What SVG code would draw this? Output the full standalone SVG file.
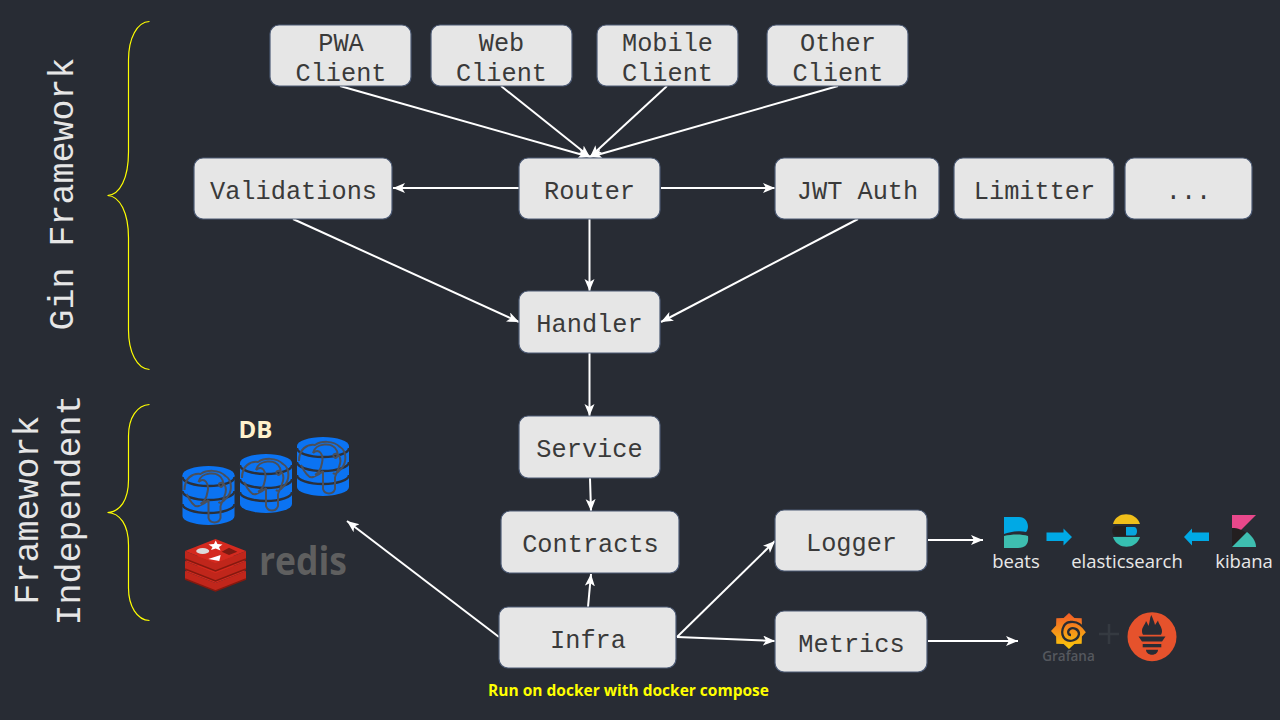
<svg xmlns="http://www.w3.org/2000/svg" width="1280" height="720" viewBox="0 0 1280 720">
<style>
.box{fill:#e6e6e6;stroke:#4d5b75;stroke-width:1.2}
.t{font-family:"Liberation Mono",monospace;font-size:25.3px;fill:#3a3a3a;text-anchor:middle}
.side{font-family:"Liberation Mono",monospace;font-size:35px;fill:#e6e6e6;text-anchor:middle}
.c{fill:none;stroke:#fff;stroke-width:2;marker-end:url(#a)}
.brace{fill:none;stroke:#ffff00;stroke-width:1.2}
.logo{font-family:"Open Sans","Noto Sans",sans-serif;fill:#e8e8e8;text-anchor:middle}
.band{fill:none;stroke:#2b303a;stroke-width:2.4}
.ele{fill:none;stroke:#4a4f5a;stroke-width:2}
.lb{fill:#c0261b}
.lg{fill:none;stroke:#85190f;stroke-width:1.6}
.lf{fill:#d42a1f}
.dk{fill:#282c34}
</style>
<defs>
<marker id="a" markerUnits="userSpaceOnUse" markerWidth="14" markerHeight="12" refX="12" refY="5" orient="auto"><path d="M0 0L12 5L0 10L3 5Z" fill="#fff"/></marker>
<linearGradient id="g" x1="0" y1="0" x2="0" y2="1"><stop offset="0" stop-color="#f05a28"/><stop offset="1" stop-color="#fbca0a"/></linearGradient>
<g id="cyl">
<ellipse cx="26" cy="9" rx="26" ry="9" fill="#0b73f2"/>
<path d="M0 9V50A26 9 0 0 0 52 50V9Z" fill="#0b73f2"/>
<path class="band" d="M0 11A26 9 0 0 0 52 11M0 25A26 9 0 0 0 52 25M0 38A26 9 0 0 0 52 38"/>
<path class="ele" d="M2 24C2 12 10 7 18 8C24 4 36 3 43 10C50 14 50 26 44 32C40 36 38 38 36 36M4 28C8 36 12 42 16 40C22 38 24 36 26 34M16 16C22 10 27 18 25 26C24 32 22 36 18 38M26 34V52C28 58 36 58 38 52V40M36 18C40 14 46 20 42 30L38 40M16 16C18 6 36 4 40 14C42 20 38 24 36 18"/>
</g>
<g id="lay">
<path class="lb" d="M185 0L215.500 12L246 0V8L215.500 20L185 8Z"/>
<path class="lf" d="M185 0L215.500 -12L246 0L215.500 12Z"/>
<path class="lg" d="M185 8L215.500 20L246 8"/>
</g>
</defs>
<rect width="1280" height="720" fill="#282c34"/>

<g id="connectors">
<path class="c" d="M340 86L590 157"/>
<path class="c" d="M501 86L590 157"/>
<path class="c" d="M667 86L590 157"/>
<path class="c" d="M838 86L590 157"/>
<path class="c" d="M519 188H393"/>
<path class="c" d="M661 188H775"/>
<path class="c" d="M589.500 219V291"/>
<path class="c" d="M293 219L519 322"/>
<path class="c" d="M858 219L661 322"/>
<path class="c" d="M589.500 353V416"/>
<path class="c" d="M590 478L591 511"/>
<path class="c" d="M588 607L591 574"/>
<path class="c" d="M499 637L347 521"/>
<path class="c" d="M677 637L775 541"/>
<path class="c" d="M677 637L775 641"/>
<path class="c" d="M928 540H983"/>
<path class="c" d="M928 641H1018"/>
</g>

<g id="pwa"><rect class="box" x="270" y="25" width="141" height="61" rx="9"/><text class="t" x="341" y="51">PWA</text><text class="t" x="341" y="81">Client</text></g>
<g id="web"><rect class="box" x="431" y="25" width="141" height="61" rx="9"/><text class="t" x="501.500" y="51">Web</text><text class="t" x="501.500" y="81">Client</text></g>
<g id="mobile"><rect class="box" x="597" y="25" width="141" height="61" rx="9"/><text class="t" x="667.500" y="51">Mobile</text><text class="t" x="667.500" y="81">Client</text></g>
<g id="other"><rect class="box" x="767" y="25" width="141" height="61" rx="9"/><text class="t" x="838" y="51">Other</text><text class="t" x="838" y="81">Client</text></g>
<g id="validations"><rect class="box" x="194" y="158" width="198" height="61" rx="9"/><text class="t" x="293.500" y="199">Validations</text></g>
<g id="router"><rect class="box" x="519" y="158" width="141" height="61" rx="9"/><text class="t" x="589.500" y="199">Router</text></g>
<g id="jwt"><rect class="box" x="775" y="158" width="164" height="61" rx="9"/><text class="t" x="857.500" y="199">JWT Auth</text></g>
<g id="limitter"><rect class="box" x="954" y="158" width="160" height="61" rx="9"/><text class="t" x="1034.500" y="199">Limitter</text></g>
<g id="more"><rect class="box" x="1125" y="158" width="127" height="61" rx="9"/><text class="t" x="1188.500" y="199">...</text></g>
<g id="handler"><rect class="box" x="519" y="291" width="141" height="62" rx="9"/><text class="t" x="589.500" y="332">Handler</text></g>
<g id="service"><rect class="box" x="519" y="416" width="141" height="62" rx="9"/><text class="t" x="589.500" y="457">Service</text></g>
<g id="contracts"><rect class="box" x="501" y="511" width="178" height="62" rx="9"/><text class="t" x="590.500" y="552">Contracts</text></g>
<g id="infra"><rect class="box" x="499" y="607" width="177" height="61" rx="9"/><text class="t" x="588" y="648">Infra</text></g>
<g id="logger"><rect class="box" x="775" y="510" width="152" height="61" rx="9"/><text class="t" x="851.500" y="551">Logger</text></g>
<g id="metrics"><rect class="box" x="775" y="611" width="152" height="61" rx="9"/><text class="t" x="851.500" y="652">Metrics</text></g>

<g id="gin-label">
<path class="brace" d="M149.500 21.500C137 22 128.500 38 128.500 60V152C128.500 178 120 195 107.500 195.500C120 196 128.500 213 128.500 238V330C128.500 352 137 369 149.500 369.500"/>
<text class="side" transform="translate(73 194) rotate(-90)">Gin Framework</text>
</g>
<g id="independent-label">
<path class="brace" d="M149.500 404.500C137 405 128.500 418 128.500 436V480C128.500 500 120 512 107.500 512.500C120 513 128.500 525 128.500 545V588C128.500 606 137 620 149.500 620.500"/>
<text class="side" transform="translate(38 510) rotate(-90)">Framework</text>
<text class="side" transform="translate(79.500 510) rotate(-90)">Independent</text>
</g>

<g id="db">
<text x="255.500" y="438" font-family="'Open Sans','Noto Sans',sans-serif" font-weight="700" font-size="24" fill="#fff2cc" text-anchor="middle">DB</text>
<use href="#cyl" x="182.500" y="466"/>
<use href="#cyl" x="240" y="454"/>
<use href="#cyl" x="297" y="437"/>
</g>
<g id="redis">
<use href="#lay" y="571"/>
<use href="#lay" y="561"/>
<use href="#lay" y="551"/>
<path d="M215.700 540.500L217.500 544L222.500 544.500L219 547L220.500 550.500L215.700 548.500L211 550L212.500 547L208.500 544.500L214 544Z" fill="#fff"/>
<ellipse cx="202.700" cy="551" rx="6.500" ry="3" fill="#dcdcdc"/>
<path d="M208.300 559L220.700 555L219.300 561Z" fill="#fff"/>
<path d="M221.700 551.700L229 547.700L237.300 551.700L229 555Z" fill="#7a1a12"/>
<text x="303" y="575" font-family="'Open Sans','Noto Sans',sans-serif" font-weight="700" font-size="40" fill="#5f5f5f" text-anchor="middle" textLength="88" lengthAdjust="spacingAndGlyphs">redis</text>
</g>

<g id="elk">
<path d="M1004 517H1019C1028 517 1030 528 1026 532C1020 530 1010 532 1004 534Z" fill="#00a9e5"/>
<path d="M1004 536C1012 534 1022 534 1028 536C1029 543 1026 548 1018 548H1004Z" fill="#3ebeb0"/>
<text class="logo" x="1016" y="568" font-size="18.500">beats</text>
<path d="M1046.500 532.500H1063.500V528.500L1072 537L1063.500 545.500V541H1046.500Z" fill="#00a9e5"/>
<path d="M1113 524C1116 511 1136 511 1140 524Z" fill="#f0bf1a"/>
<path d="M1116 526H1127V536H1116C1111 536 1111 526 1116 526Z" fill="#231f20"/>
<path d="M1126 527H1134C1138 527 1138 535.500 1134 535.500H1126Z" fill="#07a5de"/>
<path d="M1113 537H1140C1136 550 1117 550 1113 537Z" fill="#36bfb1"/>
<text class="logo" x="1127" y="568" font-size="18.500">elasticsearch</text>
<path d="M1209 532.500H1192V528.500L1184 537L1192 545.500V541H1209Z" fill="#00a9e5"/>
<path d="M1232 515H1256L1232 539Z" fill="#e8488b"/>
<path d="M1232 528C1238 528 1243 530 1246 533L1232 547Z" fill="#231f20"/>
<path d="M1232 547L1247 532C1252 536 1256 541 1256 547Z" fill="#3ebeb0"/>
<text class="logo" x="1244" y="568" font-size="18.500">kibana</text>
</g>

<g id="monitoring">
<path d="M1087 631L1081.900 636.400L1081.700 643.700L1074.400 643.900L1069 649L1063.600 643.900L1056.300 643.700L1056.100 636.400L1051 631L1056.100 625.600L1056.300 618.300L1063.600 618.100L1069 613L1074.400 618.100L1081.700 618.300L1081.900 625.600Z" fill="url(#g)"/>
<path d="M1087 632C1082 624 1076 621 1070 622C1062 623 1060 634 1065 639C1070 643 1078 640 1079 634C1079 629 1073 627 1070 629C1067 631 1068 635 1071 635" fill="none" stroke="#282c34" stroke-width="2.300"/>
<text x="1068.500" y="661" font-family="'Open Sans','Noto Sans',sans-serif" font-weight="600" font-size="13.500" fill="#55585e" text-anchor="middle">Grafana</text>
<path d="M1109 624V644M1099 634H1119" stroke="#353a41" stroke-width="2.500" fill="none"/>
<circle cx="1152" cy="636.700" r="24.500" fill="#e6522c"/>
<path class="dk" d="M1142 631C1142 627 1145 625 1146 621C1147.500 623 1148 625 1148.500 626C1150 622 1149.500 618 1151.300 615C1153 619 1154.500 622 1155 625C1156 623.500 1157 622 1158 620.500C1158.500 624 1162 627 1162 631C1162 633 1161.500 634 1161 634.700H1143C1142.500 634 1142 633 1142 631Z"/>
<path class="dk" d="M1138.500 636.500H1165.500L1162 641.500H1142Z"/>
<rect class="dk" x="1142.700" y="644" width="18.600" height="3.300"/>
<path class="dk" d="M1146 649.700H1158C1158 652.500 1155.500 654.700 1152 654.700C1148.500 654.700 1146 652.500 1146 649.700Z"/>
</g>

<text id="docker-note" x="628.500" y="696" font-family="'Open Sans','Noto Sans',sans-serif" font-weight="700" font-size="15.500" fill="#ffff00" text-anchor="middle">Run on docker with docker compose</text>
</svg>
